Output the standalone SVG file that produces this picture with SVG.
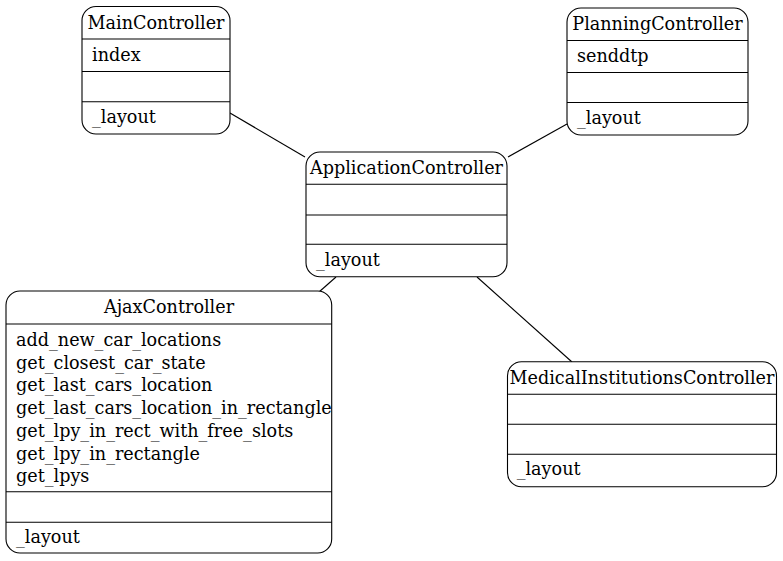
<svg xmlns="http://www.w3.org/2000/svg" width="783" height="561" viewBox="0 0 783 561">
<style>
.box{fill:#fff;stroke:#000;stroke-width:1.1}
.sep{stroke:#000;stroke-width:1.1}
.edge{stroke:#000;stroke-width:1.1;fill:none}
text{font-family:"DejaVu Serif","Liberation Serif",serif;font-size:17.6px;fill:#000}
.c{text-anchor:middle}
</style>
<rect width="783" height="561" fill="#fff"/>
<g id="edges">
<line class="edge" x1="230" y1="113" x2="305" y2="157"/>
<line class="edge" x1="567" y1="124" x2="508" y2="157"/>
<line class="edge" x1="336" y1="277" x2="319" y2="292"/>
<line class="edge" x1="477" y1="277" x2="572" y2="362"/>
</g>
<g id="MainController">
<rect class="box" x="82" y="6.5" width="148" height="127.5" rx="14"/>
<line class="sep" x1="82" y1="39" x2="230" y2="39"/>
<line class="sep" x1="82" y1="71.5" x2="230" y2="71.5"/>
<line class="sep" x1="82" y1="101.7" x2="230" y2="101.7"/>
<text class="c" x="156" y="28.5">MainController</text>
<text x="92" y="61">index</text>
<text x="92" y="123">_layout</text>
</g>
<g id="PlanningController">
<rect class="box" x="567" y="8" width="181" height="127" rx="14"/>
<line class="sep" x1="567" y1="40.5" x2="748" y2="40.5"/>
<line class="sep" x1="567" y1="72.5" x2="748" y2="72.5"/>
<line class="sep" x1="567" y1="102.5" x2="748" y2="102.5"/>
<text class="c" x="657.5" y="30">PlanningController</text>
<text x="577" y="62">senddtp</text>
<text x="577" y="124">_layout</text>
</g>
<g id="ApplicationController">
<rect class="box" x="306" y="152" width="201" height="124.7" rx="14"/>
<line class="sep" x1="306" y1="184.3" x2="507" y2="184.3"/>
<line class="sep" x1="306" y1="215" x2="507" y2="215"/>
<line class="sep" x1="306" y1="244.3" x2="507" y2="244.3"/>
<text class="c" x="406.5" y="174">ApplicationController</text>
<text x="316" y="266">_layout</text>
</g>
<g id="AjaxController">
<rect class="box" x="6" y="291" width="325.7" height="262" rx="14"/>
<line class="sep" x1="6" y1="324" x2="331.7" y2="324"/>
<line class="sep" x1="6" y1="491.7" x2="331.7" y2="491.7"/>
<line class="sep" x1="6" y1="522.3" x2="331.7" y2="522.3"/>
<text class="c" x="169" y="313">AjaxController</text>
<text x="16" y="346">add_new_car_locations</text>
<text x="16" y="368.7">get_closest_car_state</text>
<text x="16" y="391.4">get_last_cars_location</text>
<text x="16" y="414.1">get_last_cars_location_in_rectangle</text>
<text x="16" y="436.8">get_lpy_in_rect_with_free_slots</text>
<text x="16" y="459.5">get_lpy_in_rectangle</text>
<text x="16" y="482.2">get_lpys</text>
<text x="16" y="543">_layout</text>
</g>
<g id="MedicalInstitutionsController">
<rect class="box" x="507.5" y="361.7" width="269" height="125" rx="14"/>
<line class="sep" x1="507.5" y1="394.3" x2="776.5" y2="394.3"/>
<line class="sep" x1="507.5" y1="424.3" x2="776.5" y2="424.3"/>
<line class="sep" x1="507.5" y1="454.3" x2="776.5" y2="454.3"/>
<text class="c" x="642" y="384">MedicalInstitutionsController</text>
<text x="516.7" y="475">_layout</text>
</g>
</svg>
